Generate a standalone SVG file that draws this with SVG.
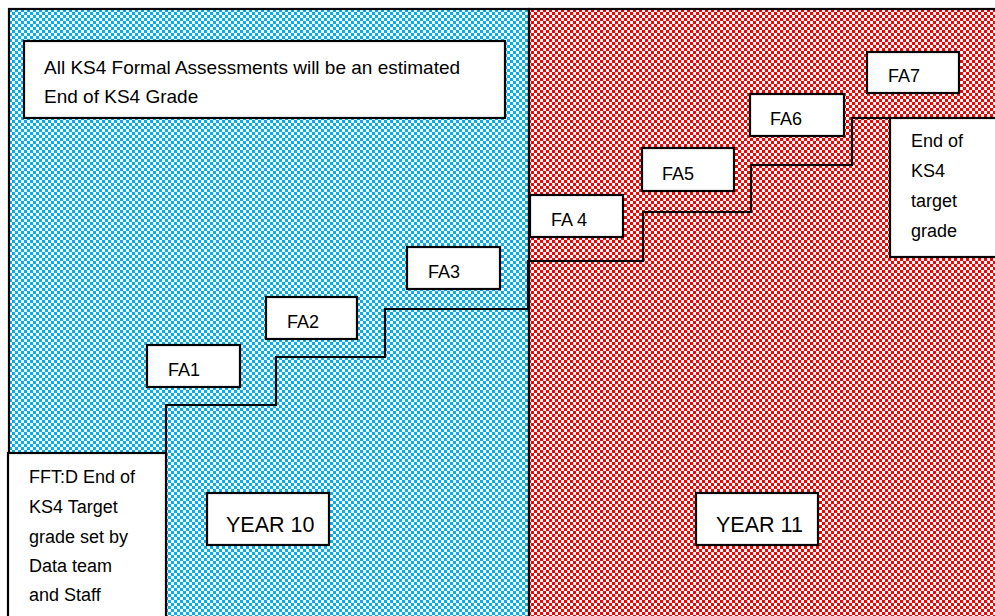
<svg xmlns="http://www.w3.org/2000/svg" width="995" height="616" viewBox="0 0 995 616">
<defs>
<pattern id="pb" width="6" height="6" patternUnits="userSpaceOnUse">
<rect width="6" height="6" fill="#fff"/>
<rect x="0" y="0" width="3" height="3" fill="#00B0F0"/>
<rect x="3" y="3" width="3" height="3" fill="#00B0F0"/>
</pattern>
<pattern id="pr" width="6" height="6" patternUnits="userSpaceOnUse">
<rect width="6" height="6" fill="#fff"/>
<rect x="0" y="0" width="3" height="3" fill="#FF0000"/>
<rect x="3" y="3" width="3" height="3" fill="#FF0000"/>
</pattern>
</defs>
<style>
.box{fill:#fff;stroke:#000;stroke-width:2.2}
.t{font-family:"Liberation Sans",Arial,sans-serif;font-size:18px;fill:#000}
.n{font-size:19px}
.big{font-family:"Liberation Sans",Arial,sans-serif;font-size:21.5px;fill:#000}
.step{fill:none;stroke:#000;stroke-width:2.2}
</style>
<rect width="995" height="616" fill="#fff"/>
<g id="year10-area">
<rect x="9" y="9" width="520" height="610" fill="url(#pb)" stroke="#000" stroke-width="2.2"/>
</g>
<g id="year11-area">
<rect x="529" y="9" width="470" height="610" fill="url(#pr)" stroke="#000" stroke-width="2.2"/>
</g>
<g id="connectors">
<path class="step" d="M166,616 V405 H276 V357 H385 V309 H528 V261 H643 V212 H751 V165 H852 V118 H890"/>
</g>
<g id="note">
<rect class="box" x="24" y="41" width="481" height="77"/>
<text class="t n" x="44" y="74">All KS4 Formal Assessments will be an estimated</text>
<text class="t n" x="44" y="103">End of KS4 Grade</text>
</g>
<g id="fft">
<rect class="box" x="8" y="453" width="158" height="170"/>
<text class="t" x="29" y="483">FFT:D End of</text>
<text class="t" x="29" y="513">KS4 Target</text>
<text class="t" x="29" y="543">grade set by</text>
<text class="t" x="29" y="572">Data team</text>
<text class="t" x="29" y="601">and Staff</text>
</g>
<g id="fa1"><rect class="box" x="147" y="345" width="93" height="42"/><text class="t" x="168" y="376">FA1</text></g>
<g id="fa2"><rect class="box" x="266" y="297" width="91" height="42"/><text class="t" x="287" y="328">FA2</text></g>
<g id="fa3"><rect class="box" x="407" y="247" width="93" height="42"/><text class="t" x="428" y="278">FA3</text></g>
<g id="fa4"><rect class="box" x="530" y="195" width="93" height="42"/><text class="t" x="551" y="226">FA 4</text></g>
<g id="fa5"><rect class="box" x="642" y="148" width="92" height="43"/><text class="t" x="662" y="180">FA5</text></g>
<g id="fa6"><rect class="box" x="750" y="94" width="94" height="42"/><text class="t" x="770" y="125">FA6</text></g>
<g id="fa7"><rect class="box" x="867" y="52" width="92" height="41"/><text class="t" x="888" y="82">FA7</text></g>
<g id="target">
<rect class="box" x="890" y="118" width="110" height="139"/>
<text class="t" x="911" y="147">End of</text>
<text class="t" x="911" y="177">KS4</text>
<text class="t" x="911" y="207">target</text>
<text class="t" x="911" y="237">grade</text>
</g>
<g id="year10"><rect class="box" x="207" y="493" width="122" height="52"/><text class="big" x="226" y="532">YEAR 10</text></g>
<g id="year11"><rect class="box" x="696" y="493" width="122" height="52"/><text class="big" x="716" y="532">YEAR 11</text></g>
</svg>
